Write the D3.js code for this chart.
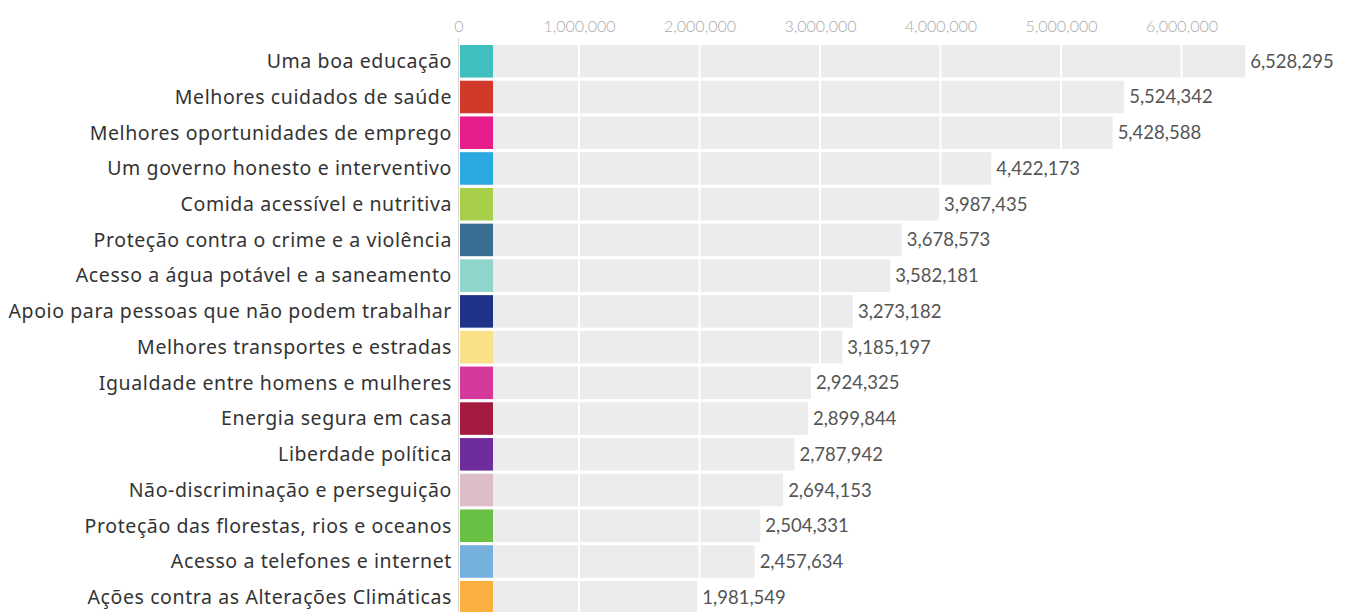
<!DOCTYPE html>
<html>
<head>
<meta charset="utf-8">
<script src="https://cdn.jsdelivr.net/npm/d3@7"></script>
<style>
  body { margin: 0; background: #fff; }
  svg { display: block; }
</style>
</head>
<body>
<svg id="chart" width="1345" height="612"></svg>
<script>
// categories, top to bottom
const categories = [
    "Uma boa educação",
    "Melhores cuidados de saúde",
    "Melhores oportunidades de emprego",
    "Um governo honesto e interventivo",
    "Comida acessível e nutritiva",
    "Proteção contra o crime e a violência",
    "Acesso a água potável e a saneamento",
    "Apoio para pessoas que não podem trabalhar",
    "Melhores transportes e estradas",
    "Igualdade entre homens e mulheres",
    "Energia segura em casa",
    "Liberdade política",
    "Não-discriminação e perseguição",
    "Proteção das florestas, rios e oceanos",
    "Acesso a telefones e internet",
    "Ações contra as Alterações Climáticas"
];
const votes = [6528295, 5524342, 5428588, 4422173, 3987435, 3678573, 3582181, 3273182,
    3185197, 2924325, 2899844, 2787942, 2694153, 2504331, 2457634, 1981549];
const swatchColors = ["#3fbfbd", "#d13a2b", "#e81d8c", "#2ba9e1", "#a7cf4a", "#3a6e93",
    "#90d5cb", "#1f3388", "#fbe08a", "#d5399c", "#a51a3f", "#6f2c9c",
    "#dcbdc8", "#6abf45", "#76b0dc", "#fbb03f"];
const tickValues = [0, 1000000, 2000000, 3000000, 4000000, 5000000, 6000000];

const svg = d3.select("#chart");

let x = d3.scaleLinear().domain([0, 6000000]).range([458.5, 1181.5]);
let y = d3.scaleBand().domain(categories).range([41.8, 41.8 + 35.73 * 16.09])
    .paddingInner(0.09).paddingOuter(0.09);

const fmt = d3.format(",");

// grey background bars
svg.append("g").selectAll("rect")
    .data(categories)
    .join("rect")
    .attr("x", x(0) + 1.5)
    .attr("y", d => y(d))
    .attr("width", (d, i) => x(votes[i]) - x(0) - 1.5)
    .attr("height", y.bandwidth())
    .attr("fill", "#ececec");

// white grid lines over the bars
svg.append("g").selectAll("line")
    .data(tickValues.slice(1))
    .join("line")
    .attr("x1", d => x(d)).attr("x2", d => x(d))
    .attr("y1", 40).attr("y2", 612)
    .attr("stroke", "#fff")
    .attr("stroke-width", 2);

// zero line
svg.append("line")
    .attr("x1", x(0)).attr("x2", x(0))
    .attr("y1", 38).attr("y2", 612)
    .attr("stroke", "#d8d8d8")
    .attr("stroke-width", 1);

// colour swatches
svg.append("g").selectAll("rect")
    .data(categories)
    .join("rect")
    .attr("x", x(0) + 1.5)
    .attr("y", d => y(d))
    .attr("width", 33)
    .attr("height", y.bandwidth())
    .attr("fill", (d, i) => swatchColors[i]);

// top axis
const xAxis = d3.axisTop(x).tickValues(tickValues).tickFormat(fmt).tickSize(0);
svg.append("g")
    .attr("transform", "translate(0,35)")
    .call(xAxis)
    .call(g => g.select(".domain").remove())
    .call(g => g.selectAll("text")
        .attr("fill", "#aaa")
        .attr("font-family", "Lato, sans-serif")
        .attr("font-weight", 300)
        .attr("font-size", 16));

// category labels
svg.append("g").selectAll("text")
    .data(categories)
    .join("text")
    .attr("x", 452)
    .attr("y", d => y(d) + y.bandwidth() / 2)
    .attr("dy", "0.35em")
    .attr("text-anchor", "end")
    .attr("font-family", "'Noto Sans', 'Open Sans', sans-serif")
    .attr("font-size", 19.5)
    .attr("letter-spacing", 0.6)
    .attr("fill", "#333")
    .text(d => d);

// value labels
svg.append("g").selectAll("text")
    .data(categories)
    .join("text")
    .attr("x", (d, i) => x(votes[i]) + 5)
    .attr("y", d => y(d) + y.bandwidth() / 2)
    .attr("dy", "0.35em")
    .attr("font-family", "Lato, sans-serif")
    .attr("font-size", 18.5)
    .attr("fill", "#555")
    .text((d, i) => fmt(votes[i]));
</script>
</body>
</html>
